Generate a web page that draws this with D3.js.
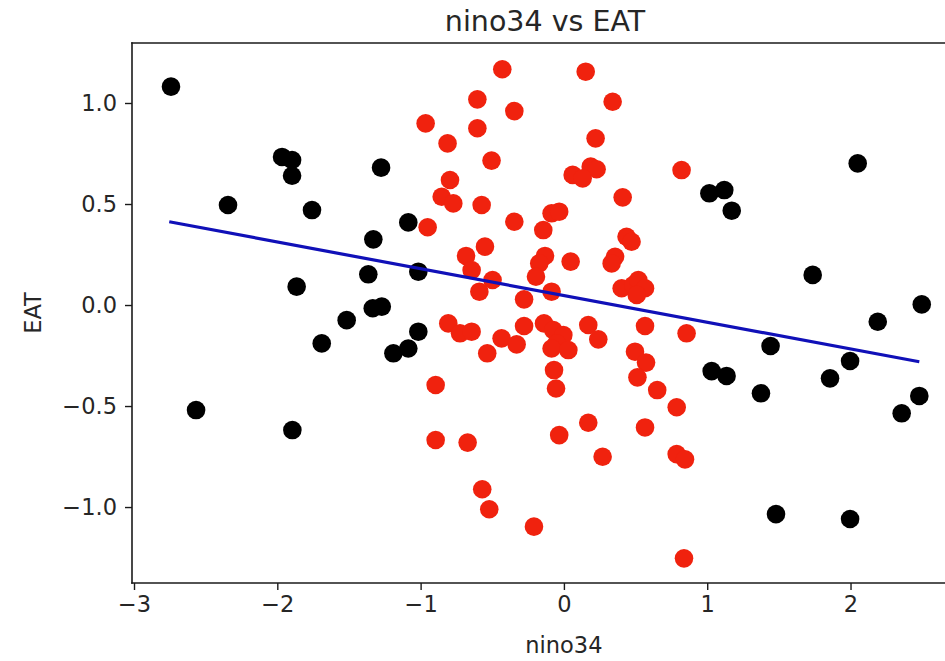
<!DOCTYPE html>
<html>
<head>
<meta charset="utf-8">
<script src="https://cdn.jsdelivr.net/npm/d3@7"></script>
<style>
  html, body { margin: 0; padding: 0; background: #fff; overflow: hidden; }
  svg { display: block; }
  text { font-family: "DejaVu Sans", sans-serif; fill: #262626; }
</style>
</head>
<body>
<svg id="chart" width="945" height="661"></svg>
<script>
// nino34 index and EAT anomaly, split into strong (|nino34| > 1) and weak years
const strongX = [-2.742, -2.344, -2.567, -1.967, -1.897, -1.897, -1.865, -1.895, -1.758, -1.690,
  -1.516, -1.330, -1.365, -1.334, -1.271, -1.276, -1.086, -1.016, -1.016, -1.190, -1.086,
  1.015, 1.119, 1.171, 2.050, 1.736, 2.497, 2.190, 1.442, 1.031, 1.135, 1.375, 1.857,
  1.997, 2.480, 2.357, 1.480, 1.997];
const strongY = [1.081, 0.495, -0.520, 0.733, 0.718, 0.640, 0.091, -0.619, 0.470, -0.190,
  -0.075, 0.325, 0.152, -0.016, -0.008, 0.680, 0.409, 0.165, -0.132, -0.239, -0.215,
  0.553, 0.569, 0.467, 0.701, 0.149, 0.003, -0.083, -0.203, -0.327, -0.351, -0.437, -0.363,
  -0.277, -0.450, -0.536, -1.035, -1.059];

const weakX = [-0.430, 0.152, -0.604, 0.340, -0.346, -0.965, -0.604, -0.812, 0.221, -0.505,
  0.821, 0.187, 0.228, 0.061, 0.131, -0.795, -0.853, -0.772, -0.574, 0.410,
  -0.346, -0.086, -0.033, -0.144, -0.951, 0.437, 0.472, -0.551, -0.683, -0.132,
  -0.172, 0.047, 0.357, 0.333, -0.644, -0.195, -0.498, -0.086, -0.590, -0.278,
  0.403, 0.484, 0.519, 0.566, 0.508,
  -0.807, -0.725, -0.644, -0.535, -0.435, -0.330, -0.278, -0.139, -0.074, -0.004,
  -0.051, -0.086, 0.031, -0.069, -0.055, 0.170, 0.240, 0.566, 0.856, 0.496,
  0.573, 0.513, 0.651, 0.787, -0.895, -0.895, -0.672, -0.033, 0.170, 0.566,
  0.270, 0.787, 0.845, -0.570, -0.521, -0.209, 0.838];
const weakY = [1.167, 1.155, 1.018, 1.006, 0.960, 0.899, 0.875, 0.800, 0.825, 0.715,
  0.668, 0.685, 0.672, 0.644, 0.627, 0.619, 0.536, 0.503, 0.495, 0.533,
  0.412, 0.454, 0.462, 0.371, 0.385, 0.338, 0.313, 0.289, 0.243, 0.243,
  0.206, 0.215, 0.239, 0.206, 0.173, 0.140, 0.124, 0.066, 0.066, 0.028,
  0.083, 0.099, 0.124, 0.083, 0.050,
  -0.091, -0.140, -0.132, -0.239, -0.165, -0.195, -0.104, -0.091, -0.124, -0.149,
  -0.190, -0.215, -0.223, -0.322, -0.413, -0.099, -0.170, -0.104, -0.140, -0.231,
  -0.285, -0.358, -0.421, -0.506, -0.396, -0.668, -0.681, -0.644, -0.583, -0.606,
  -0.751, -0.738, -0.764, -0.912, -1.011, -1.097, -1.254];

// least-squares fit, evaluated at the ends of the data range
const fitX = [-2.754, 2.480];
const fitY = [0.412, -0.281];

const xTicks = [-3, -2, -1, 0, 1, 2];
const yTicks = [-1.0, -0.5, 0.0, 0.5, 1.0];

const svg = d3.select("#chart");
const plotLeft = 132, plotTop = 43, plotRight = 958, plotBottom = 583;

const x = d3.scaleLinear().domain([-3.014, 2.75]).range([plotLeft, plotRight]);
const y = d3.scaleLinear().domain([-1.376, 1.297]).range([plotBottom, plotTop]);

const minus = s => s.replace("-", "\u2212");

// frame: left, top and bottom spines (the right spine lies past the page edge)
const spines = [
  [[plotLeft, plotTop], [plotLeft, plotBottom]],
  [[plotLeft, plotTop], [plotRight, plotTop]],
  [[plotLeft, plotBottom], [plotRight, plotBottom]]
];
svg.append("g").selectAll("path")
  .data(spines)
  .join("path")
  .attr("d", d3.line())
  .attr("fill", "none").attr("stroke", "#1a1a1a").attr("stroke-width", 1.6)
  .attr("stroke-linecap", "square");

// axes
const xAxis = svg.append("g")
  .attr("transform", `translate(0,${plotBottom})`)
  .call(d3.axisBottom(x).tickValues(xTicks).tickSize(7).tickPadding(6)
    .tickFormat(d => minus(d3.format("d")(d))));
const yAxis = svg.append("g")
  .attr("transform", `translate(${plotLeft},0)`)
  .call(d3.axisLeft(y).tickValues(yTicks).tickSize(7).tickPadding(8)
    .tickFormat(d => minus(d3.format(".1f")(d))));

[xAxis, yAxis].forEach(g => {
  g.select(".domain").remove();
  g.selectAll(".tick line").attr("stroke", "#1a1a1a").attr("stroke-width", 1.4);
  g.selectAll(".tick text").attr("font-size", 22.5).attr("fill", "#262626")
    .attr("font-family", "DejaVu Sans");
});

// points
const plot = svg.append("g");
plot.selectAll("circle.strong")
  .data(d3.zip(strongX, strongY))
  .join("circle")
  .attr("class", "strong")
  .attr("cx", d => x(d[0])).attr("cy", d => y(d[1]))
  .attr("r", 9.3).attr("fill", "#000");

plot.selectAll("circle.weak")
  .data(d3.zip(weakX, weakY))
  .join("circle")
  .attr("class", "weak")
  .attr("cx", d => x(d[0])).attr("cy", d => y(d[1]))
  .attr("r", 9.3).attr("fill", "#f0220e");

// regression line
svg.append("path")
  .datum(d3.zip(fitX, fitY))
  .attr("d", d3.line().x(d => x(d[0])).y(d => y(d[1])))
  .attr("fill", "none").attr("stroke", "#1010b8").attr("stroke-width", 3.2);

// titles
svg.append("text")
  .attr("x", (plotLeft + plotRight) / 2).attr("y", 31)
  .attr("text-anchor", "middle").attr("font-size", 28.5)
  .text("nino34 vs EAT");
svg.append("text")
  .attr("x", x(0)).attr("y", 653)
  .attr("text-anchor", "middle").attr("font-size", 22.5)
  .text("nino34");
svg.append("text")
  .attr("transform", `translate(41,${(plotTop + plotBottom) / 2}) rotate(-90)`)
  .attr("text-anchor", "middle").attr("font-size", 22.5)
  .text("EAT");
</script>
</body>
</html>
